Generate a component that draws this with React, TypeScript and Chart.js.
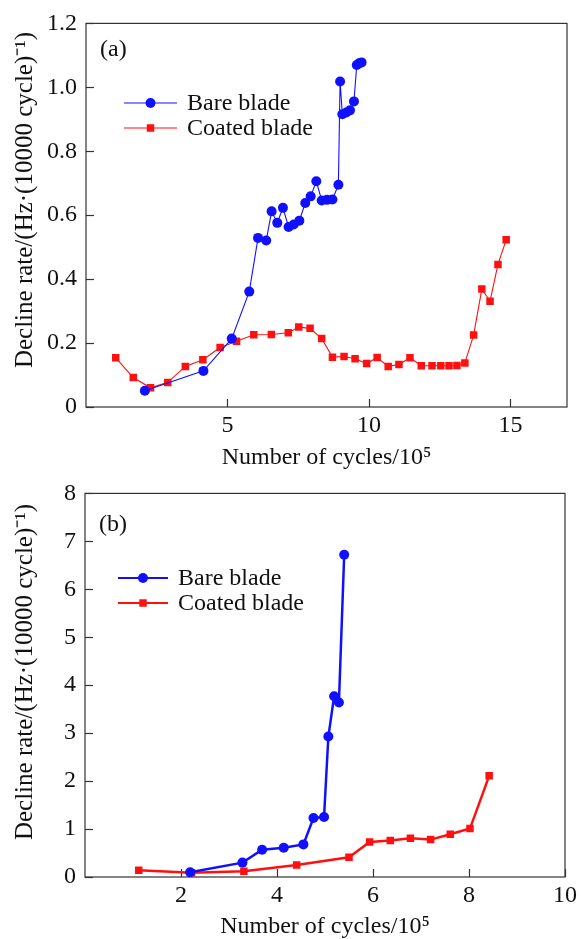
import React, { useEffect, useRef } from "react";
import { Chart, registerables } from "chart.js";

Chart.register(...registerables);

const FONT = "'Liberation Serif', 'Times New Roman', Times, serif";

// ---------- Panel (a) data ----------
const bareCyclesA = [2.08, 4.15, 5.15, 5.77, 6.08, 6.37, 6.56, 6.76, 6.96, 7.16, 7.34, 7.54, 7.75, 7.94, 8.14, 8.33, 8.52, 8.71, 8.92, 8.98, 9.06, 9.2, 9.33, 9.47, 9.57, 9.65, 9.74];
const bareRateA = [0.051, 0.113, 0.214, 0.361, 0.529, 0.521, 0.612, 0.576, 0.623, 0.563, 0.571, 0.583, 0.638, 0.659, 0.706, 0.646, 0.648, 0.649, 0.695, 1.018, 0.916, 0.921, 0.928, 0.956, 1.07, 1.075, 1.078];
const coatedCyclesA = [1.05, 1.67, 2.28, 2.89, 3.51, 4.13, 4.74, 5.32, 5.93, 6.55, 7.15, 7.52, 7.92, 8.33, 8.71, 9.12, 9.51, 9.92, 10.29, 10.68, 11.06, 11.45, 11.85, 12.23, 12.54, 12.83, 13.11, 13.39, 13.7, 13.99, 14.28, 14.56, 14.85];
const coatedRateA = [0.154, 0.092, 0.06, 0.077, 0.127, 0.148, 0.186, 0.206, 0.226, 0.227, 0.232, 0.25, 0.246, 0.214, 0.156, 0.158, 0.151, 0.136, 0.155, 0.127, 0.133, 0.154, 0.129, 0.129, 0.129, 0.129, 0.13, 0.138, 0.225, 0.369, 0.331, 0.446, 0.523];
const xTicksA = [5, 10, 15];
const yTicksA = [0, 0.2, 0.4, 0.6, 0.8, 1.0, 1.2];

// ---------- Panel (b) data ----------
const bareCyclesB = [2.19, 3.28, 3.69, 4.14, 4.55, 4.76, 4.98, 5.07, 5.19, 5.29, 5.4];
const bareRateB = [0.1, 0.3, 0.57, 0.61, 0.68, 1.23, 1.25, 2.93, 3.77, 3.64, 6.72];
const coatedCyclesB = [1.12, 2.22, 3.31, 4.41, 5.5, 5.93, 6.36, 6.78, 7.2, 7.61, 8.02, 8.42];
const coatedRateB = [0.14, 0.09, 0.12, 0.25, 0.41, 0.73, 0.76, 0.81, 0.78, 0.89, 1.01, 2.11];
const xTicksB = [2, 4, 6, 8, 10];
const yTicksB = [0, 1, 2, 3, 4, 5, 6, 7, 8];

const seriesLabels = ["Bare blade", "Coated blade"];
const xTitle = "Number of cycles/10\u2075";
const yTitle = "Decline rate/(Hz\u00B7(10000 cycle)\u207B\u00B9)";

const toPoints = (xs: number[], ys: number[]) => xs.map((x, i) => ({ x, y: ys[i] }));

const decorPlugin = {
  id: "decor",
  beforeDatasetsDraw(chart: any, _args: any, opts: any) {
    const { ctx, chartArea: a, scales } = chart;
    ctx.save();
    ctx.strokeStyle = "#333";
    ctx.lineWidth = 1.2;
    ctx.strokeRect(a.left, a.top, a.right - a.left, a.bottom - a.top);
    const tl = 8;
    scales.x.ticks.forEach((t: any) => {
      const px = Math.round(scales.x.getPixelForValue(t.value)) + 0.5;
      ctx.beginPath();
      ctx.moveTo(px, a.bottom);
      ctx.lineTo(px, a.bottom - tl);
      ctx.stroke();
    });
    scales.y.ticks.forEach((t: any) => {
      const py = Math.round(scales.y.getPixelForValue(t.value)) + 0.5;
      ctx.beginPath();
      ctx.moveTo(a.left, py);
      ctx.lineTo(a.left + tl, py);
      ctx.stroke();
    });
    // y-axis title (rotated)
    ctx.translate(opts.yTitleX, opts.yTitleY);
    ctx.rotate(-Math.PI / 2);
    ctx.fillStyle = "#111";
    ctx.font = `25px ${FONT}`;
    ctx.textAlign = "center";
    ctx.textBaseline = "middle";
    ctx.fillText(yTitle, 0, 0);
    ctx.restore();
  },
  afterDatasetsDraw(chart: any, _args: any, opts: any) {
    const { ctx } = chart;
    ctx.save();
    // panel label
    ctx.fillStyle = "#111";
    ctx.font = `24px ${FONT}`;
    ctx.textBaseline = "middle";
    ctx.textAlign = "left";
    ctx.fillText(opts.panel, opts.panelX, opts.panelY);
    // legend
    chart.data.datasets.forEach((ds: any, i: number) => {
      const y = opts.legendY + i * opts.legendGap;
      ctx.strokeStyle = ds.borderColor;
      ctx.lineWidth = opts.legendLineWidth;
      ctx.beginPath();
      ctx.moveTo(opts.legendX, y);
      ctx.lineTo(opts.legendX + opts.legendLen, y);
      ctx.stroke();
      const cx = opts.legendX + opts.legendLen / 2;
      ctx.fillStyle = ds.pointBackgroundColor;
      if (ds.pointStyle === "circle") {
        ctx.beginPath();
        ctx.arc(cx, y, ds.pointRadius, 0, Math.PI * 2);
        ctx.fill();
      } else {
        const s = ds.pointRadius * Math.SQRT1_2;
        ctx.fillRect(cx - s, y - s, 2 * s, 2 * s);
      }
      ctx.fillStyle = "#111";
      ctx.font = `24px ${FONT}`;
      ctx.textBaseline = "middle";
      ctx.fillText(ds.label, opts.legendX + opts.legendLen + 10, y + 1);
    });
    ctx.restore();
  },
};

type PanelProps = {
  width: number;
  height: number;
  bare: { x: number; y: number }[];
  coated: { x: number; y: number }[];
  xMax: number;
  yMax: number;
  xTicks: number[];
  yTicks: number[];
  yFmt: (v: number) => string;
  area: { left: number; top: number; right: number; bottom: number };
  lineWidth: number;
  decor: any;
};

function Panel(p: PanelProps) {
  const ref = useRef<HTMLCanvasElement | null>(null);
  useEffect(() => {
    if (!ref.current) return;
    const font = { family: FONT, size: 24 };
    const chart = new Chart(ref.current, {
      type: "line",
      data: {
        datasets: [
          {
            label: seriesLabels[0],
            data: p.bare,
            borderColor: "#1010ff",
            backgroundColor: "#1010ff",
            pointBackgroundColor: "#1010ff",
            pointBorderWidth: 0,
            pointStyle: "circle",
            pointRadius: 5,
            borderWidth: p.lineWidth,
            tension: 0,
          },
          {
            label: seriesLabels[1],
            data: p.coated,
            borderColor: "#ff1010",
            backgroundColor: "#ff1010",
            pointBackgroundColor: "#ff1010",
            pointBorderWidth: 0,
            pointStyle: "rect",
            pointRadius: 5.3,
            borderWidth: p.lineWidth,
            tension: 0,
          },
        ] as any,
      },
      options: {
        animation: false,
        responsive: false,
        layout: {
          padding: { top: p.area.top, right: p.width - p.area.right, left: 0, bottom: 0 },
        },
        plugins: {
          legend: { display: false },
          tooltip: { enabled: false },
          decor: p.decor,
        } as any,
        scales: {
          x: {
            type: "linear",
            min: 0,
            max: p.xMax,
            grid: { display: false, drawTicks: false },
            border: { display: false },
            afterBuildTicks: (s: any) => {
              s.ticks = p.xTicks.map((v) => ({ value: v }));
            },
            afterFit: (s: any) => {
              s.height = p.height - p.area.bottom;
            },
            ticks: { color: "#111", font, padding: 4, autoSkip: false, maxRotation: 0, callback: (v: any) => String(v) },
            title: {
              display: true,
              text: xTitle,
              color: "#111",
              font: { family: FONT, size: 24, lineHeight: 1 },
              padding: { top: 0, bottom: 0 },
            },
          },
          y: {
            type: "linear",
            min: 0,
            max: p.yMax,
            grid: { display: false, drawTicks: false },
            border: { display: false },
            afterBuildTicks: (s: any) => {
              s.ticks = p.yTicks.map((v) => ({ value: v }));
            },
            afterFit: (s: any) => {
              s.width = p.area.left;
            },
            ticks: { color: "#111", font, padding: 9, autoSkip: false, callback: (v: any) => p.yFmt(Number(v)) },
            title: { display: false },
          },
        },
      },
      plugins: [decorPlugin as any],
    });
    return () => chart.destroy();
  }, []);
  return <canvas ref={ref} width={p.width} height={p.height} style={{ display: "block", width: p.width, height: p.height }} />;
}

export default function App() {
  return (
    <div style={{ position: "absolute", left: 0, top: 0, width: 581, height: 939, background: "#fff" }}>
      <Panel
        width={581}
        height={470}
        bare={toPoints(bareCyclesA, bareRateA)}
        coated={toPoints(coatedCyclesA, coatedRateA)}
        xMax={17}
        yMax={1.2}
        xTicks={xTicksA}
        yTicks={yTicksA}
        yFmt={(v) => (v === 0 ? "0" : v.toFixed(1))}
        area={{ left: 86, top: 21, right: 567, bottom: 407 }}
        lineWidth={1.1}
        decor={{ panel: "(a)", panelX: 100, panelY: 50, legendX: 124, legendY: 103, legendGap: 25, legendLen: 53, legendLineWidth: 1.1, yTitleX: 25, yTitleY: 200 }}
      />
      <Panel
        width={581}
        height={469}
        bare={toPoints(bareCyclesB, bareRateB)}
        coated={toPoints(coatedCyclesB, coatedRateB)}
        xMax={10}
        yMax={8}
        xTicks={xTicksB}
        yTicks={yTicksB}
        yFmt={(v) => String(v)}
        area={{ left: 85, top: 20, right: 568, bottom: 407 }}
        lineWidth={2.5}
        decor={{ panel: "(b)", panelX: 99, panelY: 55, legendX: 118, legendY: 108, legendGap: 25, legendLen: 50, legendLineWidth: 2, yTitleX: 25, yTitleY: 202 }}
      />
    </div>
  );
}
